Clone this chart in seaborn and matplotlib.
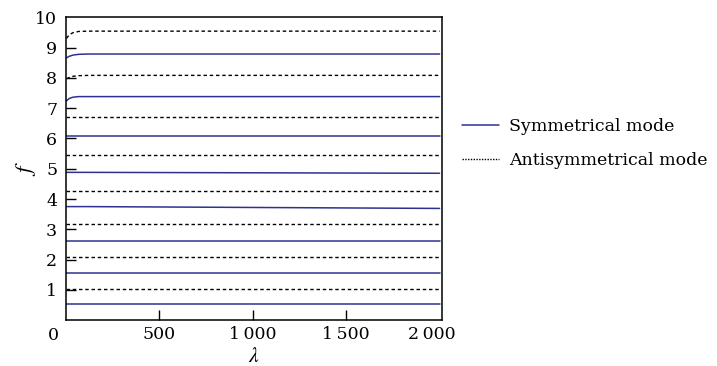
import matplotlib
matplotlib.use("Agg")
import matplotlib.pyplot as plt
import matplotlib.transforms as mtransforms
from matplotlib.lines import Line2D
import seaborn as sns
import pandas as pd

sns.set_theme(style="white")
plt.rcParams["font.family"] = ["DejaVu Serif"]
plt.rcParams["mathtext.fontset"] = "stix"
for key in ("text.color", "axes.labelcolor", "xtick.color", "ytick.color"):
    plt.rcParams[key] = "black"

# wavelength samples shared by every dispersion branch
lam = [5, 20, 40, 70, 120, 2000]

# symmetrical branches (f versus lambda)
sym_modes = [
    [0.535, 0.535, 0.535, 0.535, 0.535, 0.535],
    [1.56, 1.56, 1.56, 1.56, 1.56, 1.56],
    [2.62, 2.62, 2.62, 2.62, 2.62, 2.62],
    [3.75, 3.75, 3.75, 3.75, 3.75, 3.69],
    [4.88, 4.88, 4.88, 4.88, 4.88, 4.85],
    [6.08, 6.08, 6.08, 6.08, 6.08, 6.08],
    [7.24, 7.32, 7.36, 7.38, 7.38, 7.38],
    [8.66, 8.71, 8.75, 8.775, 8.785, 8.785],
]

# antisymmetrical branches
anti_modes = [
    [1.02, 1.02, 1.02, 1.02, 1.02, 1.02],
    [2.08, 2.08, 2.08, 2.08, 2.08, 2.08],
    [3.19, 3.19, 3.19, 3.19, 3.19, 3.19],
    [4.26, 4.26, 4.26, 4.26, 4.26, 4.26],
    [5.46, 5.46, 5.46, 5.46, 5.46, 5.46],
    [6.72, 6.72, 6.72, 6.72, 6.72, 6.72],
    [7.97, 8.01, 8.05, 8.07, 8.08, 8.08],
    [9.30, 9.42, 9.49, 9.53, 9.54, 9.54],
]

x_ticks = [500, 1000, 1500, 2000]
x_tick_labels = ["500", "1\u2009000", "1\u2009500", "2\u2009000"]
y_ticks = [1, 2, 3, 4, 5, 6, 7, 8, 9, 10]
legend_labels = ["Symmetrical mode", "Antisymmetrical mode"]

sym_color = "#2e3192"
FS = 12.5

fig = plt.figure(figsize=(7.17, 3.66), dpi=100)
ax = fig.add_axes([0.0914, 0.125, 0.5251, 0.828])

for vals in sym_modes:
    df = pd.DataFrame({"lam": lam, "f": vals})
    sns.lineplot(data=df, x="lam", y="f", ax=ax, color=sym_color, lw=1.1,
                 estimator=None, sort=True)
for vals in anti_modes:
    df = pd.DataFrame({"lam": lam, "f": vals})
    sns.lineplot(data=df, x="lam", y="f", ax=ax, color="black", lw=1.0,
                 estimator=None, sort=True, dashes=False)
for line in ax.lines[len(sym_modes):]:
    line.set_linestyle((0, (2.5, 2.0)))

ax.set_xlim(0, 2013)
ax.set_ylim(0, 10)
ax.set_xticks(x_ticks)
ax.set_xticklabels(x_tick_labels)
ax.set_yticks(y_ticks)
ax.set_yticklabels([str(v) for v in y_ticks])

ax.tick_params(axis="both", direction="in", labelsize=FS, colors="black",
               length=7, width=1.0, pad=6, left=True, bottom=True,
               top=False, right=False)
ax.tick_params(axis="x", pad=4)
# keep the last x label inside the frame
last = ax.get_xticklabels()[-1]
last.set_transform(last.get_transform() +
                   mtransforms.ScaledTranslation(-0.08, 0, fig.dpi_scale_trans))
ax.get_xticklines()[-2].set_visible(False)
ax.get_yticklines()[-2].set_visible(False)

for sp in ax.spines.values():
    sp.set_visible(True)
    sp.set_color("black")
    sp.set_linewidth(1.1)

# shared origin label
ax.text(-0.032, -0.022, "0", transform=ax.transAxes, ha="center", va="top",
        fontsize=FS, color="black")

ax.set_xlabel(r"$\lambda$", fontsize=FS + 3, color="black", va="center")
ax.xaxis.set_label_coords(0.5, -0.118)
ax.set_ylabel(r"$f$", fontsize=FS + 4, color="black", va="center")
ax.yaxis.set_label_coords(-0.104, 0.5)

handles = [
    Line2D([], [], color=sym_color, lw=1.1),
    Line2D([], [], color="black", lw=1.0, linestyle=(0, (1, 1))),
]
ax.legend(handles, legend_labels, loc="upper left",
          bbox_to_anchor=(1.035, 0.69), frameon=False, fontsize=FS,
          handlelength=2.1, handletextpad=0.6, labelspacing=0.98,
          borderaxespad=0)

fig.savefig("out.png", dpi=100)
